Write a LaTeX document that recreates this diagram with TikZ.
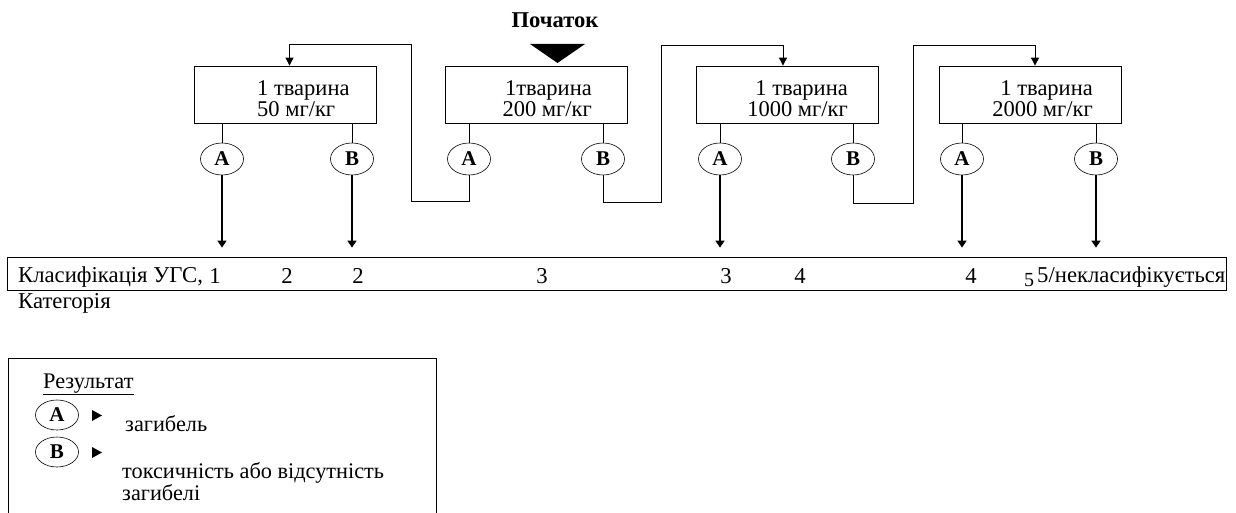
\documentclass[tikz,border=0pt]{standalone}
\usepackage{fontspec}
\setmainfont{Liberation Serif}
\usetikzlibrary{arrows.meta,shapes.geometric}
\begin{document}
\begin{tikzpicture}[x=1pt,y=-1pt,
  box/.style={draw, line width=0.8pt, minimum width=182pt, minimum height=57pt, inner sep=0pt},
  boxtxt/.style={align=left, font=\fontsize{22.5}{21.5}\selectfont, inner sep=0pt},
  res/.style={draw, ellipse, line width=0.6pt, minimum width=43pt, minimum height=32pt, inner sep=0pt, font=\fontsize{21}{21}\selectfont\bfseries},
  link/.style={line width=0.7pt},
  outarrow/.style={line width=1.6pt, -{Triangle[length=7pt,width=9pt]}, shorten >=9pt},
  looparrow/.style={line width=0.9pt, -{Triangle[length=8pt,width=8pt]}},
  lbl/.style={font=\fontsize{22.7}{22.7}\selectfont, inner sep=0pt},
  legtxt/.style={font=\fontsize{22.3}{22.3}\selectfont, inner sep=0pt},
]
\useasboundingbox (0,0) rectangle (1236,513);

% start marker
\node[font=\fontsize{22.6}{22.6}\selectfont\bfseries, inner sep=0pt] (start) at (555,20) {Початок};
\fill (530,44) -- (585,44) -- (557.5,63) -- cycle;

% dose boxes
\node[box] (n1) at (285.5,94.5) {};
\node[box] (n2) at (536.5,94.5) {};
\node[box] (n3) at (787,94.5) {};
\node[box] (n4) at (1030.5,94.5) {};
\node[boxtxt, anchor=north west] (n1t) at (257,80) {1 тварина\\50 мг/кг};
\node[boxtxt, align=right, anchor=north east] (n2t) at (592,80) {1тварина\\200 мг/кг};
\node[boxtxt, align=right, anchor=north east] (n3t) at (848,80) {1 тварина\\1000 мг/кг};
\node[boxtxt, align=right, anchor=north east] (n4t) at (1093,80) {1 тварина\\2000 мг/кг};

% outcomes
\node[res] (a1) at (222,159) {A};
\node[res] (b1) at (352,159) {B};
\node[res] (a2) at (469,159) {A};
\node[res] (b2) at (603,159) {B};
\node[res] (a3) at (720,159) {A};
\node[res] (b3) at (853,159) {B};
\node[res] (a4) at (962,159) {A};
\node[res] (b4) at (1096,159) {B};

\draw[link] (n1.south -| a1) -- (a1.north);
\draw[link] (n1.south -| b1) -- (b1.north);
\draw[link] (n2.south -| a2) -- (a2.north);
\draw[link] (n2.south -| b2) -- (b2.north);
\draw[link] (n3.south -| a3) -- (a3.north);
\draw[link] (n3.south -| b3) -- (b3.north);
\draw[link] (n4.south -| a4) -- (a4.north);
\draw[link] (n4.south -| b4) -- (b4.north);

% classification bar
\node[draw, line width=0.8pt, minimum width=1219pt, minimum height=33pt, inner sep=0pt] (cls) at (616.5,273.5) {};
\node[lbl, anchor=base west] (c0) at (18,282) {Класифікація УГС,};
\node[lbl, anchor=base] (c1) at (215,283) {1};
\node[lbl, anchor=base] (c2) at (287,283) {2};
\node[lbl, anchor=base] (c3) at (358,283) {2};
\node[lbl, anchor=base] (c4) at (542,283) {3};
\node[lbl, anchor=base] (c5) at (726,283) {3};
\node[lbl, anchor=base] (c6) at (800,283) {4};
\node[lbl, anchor=base] (c7) at (971,283) {4};
\node[lbl, font=\fontsize{20}{20}\selectfont, anchor=base] (c8) at (1029,286) {5};
\node[lbl, anchor=base west] (c9) at (1037,282) {5/некласифікується};
\node[lbl, anchor=base west] (cat) at (18,308) {Категорія};

% arrows to classification
\draw[outarrow] (a1.south) -- (a1.south |- cls.north);
\draw[outarrow] (b1.south) -- (b1.south |- cls.north);
\draw[outarrow] (a3.south) -- (a3.south |- cls.north);
\draw[outarrow] (a4.south) -- (a4.south |- cls.north);
\draw[outarrow] (b4.south) -- (b4.south |- cls.north);

% next-step loops
\draw[looparrow] (a2.south) |- (411,201) -- (411,44) -| ([xshift=4pt]n1.north);
\draw[looparrow] (b2.south) |- (661,202) -- (661,45) -| ([xshift=-4pt]n3.north);
\draw[looparrow] (b3.south) |- (913,203) -- (913,45) -| ([xshift=4.5pt]n4.north);

% legend
\node[draw, line width=0.8pt, anchor=north west, minimum width=428pt, minimum height=165pt, inner sep=0pt] (leg) at (8,358) {};
\node[legtxt, anchor=base west] (lh) at (43,388) {\underline{Результат}};
\node[res, minimum height=30pt] (la) at (57,415) {A};
\node[res, minimum height=30pt] (lb) at (57,452) {B};
\fill (92,410) -- (102,415.5) -- (92,421) -- cycle;
\fill (92,447) -- (102,452.5) -- (92,458) -- cycle;
\node[legtxt, anchor=base west] (lta) at (125,431) {загибель};
\node[legtxt, anchor=base west] (ltb1) at (122,478) {токсичність або відсутність};
\node[legtxt, anchor=base west] (ltb2) at (122,500) {загибелі};
\end{tikzpicture}
\end{document}
